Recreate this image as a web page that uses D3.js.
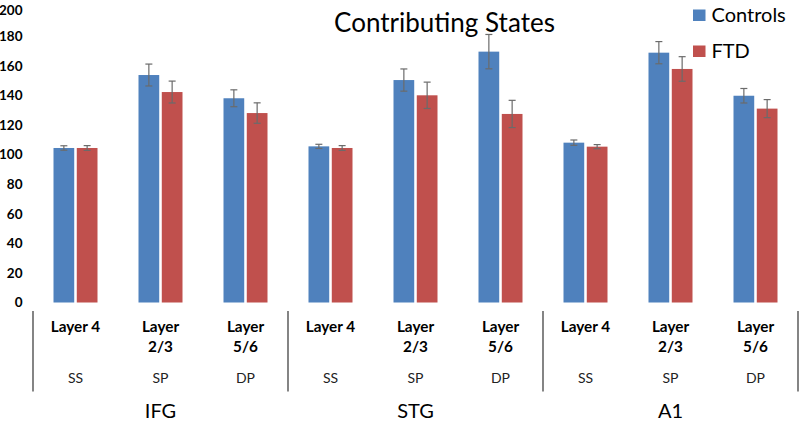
<!DOCTYPE html>
<html><head><meta charset="utf-8">
<script src="https://cdn.jsdelivr.net/npm/d3@7/dist/d3.min.js"></script>
<style>body{margin:0;background:#fff}svg{display:block}text{font-family:Lato,"Open Sans",sans-serif}</style>
</head><body><svg id="c" width="800" height="422"></svg>
<script>
const regions = ["IFG","STG","A1"];
const layers = [["Layer 4"],["Layer","2/3"],["Layer","5/6"]];
const cellTypes = ["SS","SP","DP"];
const seriesNames = ["Controls","FTD"];
const controls = [104.4,153.7,138,105.5,150.3,169.5,108,168.8,139.7];
const controlsErr = [1.5,7.4,5.7,1.4,7.5,11.6,1.8,7.5,4.9];
const ftd = [104.4,142.2,128,104.4,140,127.4,105.3,157.8,131];
const ftdErr = [1.6,7.4,6.9,1.6,8.9,9.2,1.4,8.3,6.1];
const yTicks = [0,20,40,60,80,100,120,140,160,180,200];
const colors = ["#4F81BD","#C0504D"];

const svg = d3.select("#c");
const cats = d3.range(regions.length*layers.length);
const x = d3.scaleBand().domain(cats).range([33,798]);
const y = d3.scaleLinear().domain([0,200]).range([302.5,6.5]);
const sub = d3.scaleBand().domain([0,1]).range([0,44]).paddingInner(0.11);

// y axis labels
const yAxis = d3.axisLeft(y).tickValues(yTicks).tickSize(0).tickPadding(0);
const ga = svg.append("g").attr("transform","translate(22.5,0)").call(yAxis);
ga.select(".domain").remove();
ga.selectAll("text").attr("font-size",13.5).attr("font-weight","bold").attr("fill","#000")
  .attr("font-family","Lato,sans-serif")
  .attr("dy",d=>d===200?"0.62em":"0.32em");

const series = [controls, ftd];
const errs = [controlsErr, ftdErr];
series.forEach((vals,si)=>{
  const g = svg.append("g");
  g.selectAll("rect").data(cats).join("rect")
    .attr("x",i=>x(i)+x.bandwidth()/2-22+sub(si))
    .attr("y",i=>y(vals[i]))
    .attr("width",sub.bandwidth())
    .attr("height",i=>y(0)-y(vals[i]))
    .attr("fill",colors[si]);
});
series.forEach((vals,si)=>{
  const g = svg.append("g").attr("stroke","#6b6b6b").attr("stroke-width",1.2);
  cats.forEach(i=>{
    const cx = x(i)+x.bandwidth()/2-22+sub(si)+sub.bandwidth()/2;
    const lo = y(vals[i]-errs[si][i]), hi = y(vals[i]+errs[si][i]);
    g.append("line").attr("x1",cx).attr("x2",cx).attr("y1",lo).attr("y2",hi);
    g.append("line").attr("x1",cx-3.5).attr("x2",cx+3.5).attr("y1",lo).attr("y2",lo);
    g.append("line").attr("x1",cx-3.5).attr("x2",cx+3.5).attr("y1",hi).attr("y2",hi);
  });
});

// x axis category labels
const xl = svg.append("g");
cats.forEach(i=>{
  const cx = x(i)+x.bandwidth()/2;
  const lab = layers[i%3];
  const t = xl.append("text").attr("x",cx).attr("text-anchor","middle")
    .attr("font-size",15.3).attr("font-weight","bold").attr("fill","#000");
  lab.forEach((s,k)=>t.append("tspan").attr("x",cx).attr("y",331.5+k*20).text(s));
  xl.append("text").attr("x",cx).attr("y",382.5).attr("text-anchor","middle")
    .attr("font-size",14).attr("fill","#222").text(cellTypes[i%3]);
});
// separators
const seps = d3.range(regions.length+1).map(r=>r*3);
svg.append("g").selectAll("line").data(seps).join("line")
  .attr("x1",r=>r<9?x(r):x(8)+x.bandwidth()).attr("x2",r=>r<9?x(r):x(8)+x.bandwidth())
  .attr("y1",311).attr("y2",391.5).attr("stroke","#333").attr("stroke-width",1.2);
// region labels
svg.append("g").selectAll("text").data(regions).join("text")
  .attr("x",(d,r)=>x(r*3+1)+x.bandwidth()/2).attr("y",418)
  .attr("text-anchor","middle").attr("font-size",20).attr("fill","#000").text(d=>d);

// title
svg.append("text").attr("x",444.5).attr("y",32).attr("text-anchor","middle")
  .attr("font-size",26).attr("fill","#000").text("Contributing States");

// legend
const lg = svg.append("g");
seriesNames.forEach((n,si)=>{
  lg.append("rect").attr("x",693).attr("y",9.5+si*36).attr("width",12.5).attr("height",11.5).attr("fill",colors[si]);
  lg.append("text").attr("x",711.5).attr("y",21.7+si*36).attr("font-size",20).attr("fill","#000").text(n);
});
</script></body></html>
